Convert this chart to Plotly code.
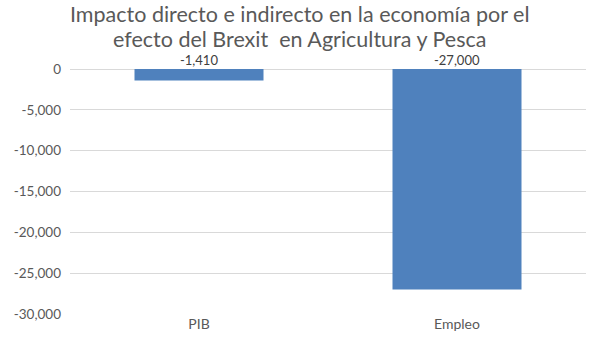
import plotly.graph_objects as go

categories = ["PIB", "Empleo"]
values = [-1410, -27000]
tick_values = [0, -5000, -10000, -15000, -20000, -25000, -30000]
tick_labels = [f"{v:,}" for v in tick_values]
title_lines = [
    "Impacto directo e indirecto en la economía por el",
    "efecto del Brexit  en Agricultura y Pesca",
]

FONT = "Lato, 'Open Sans', sans-serif"
PLOT_L, PLOT_R, PLOT_T, PLOT_B = 70, 586, 69, 314
W, H = 599, 352

fig = go.Figure()
fig.add_trace(go.Bar(
    x=categories, y=values,
    marker=dict(color="#4F81BD", line=dict(width=0)),
    width=0.5,
    hoverinfo="skip",
))

for c, v in zip(categories, values):
    fig.add_annotation(
        x=c, y=0, xref="x", yref="y",
        text=f"{v:,}", showarrow=False,
        yanchor="bottom", yshift=0, borderpad=0,
        font=dict(family=FONT, size=13, color="#404040"),
    )

# title as two paper annotations, centred on the full figure width
pw = PLOT_R - PLOT_L
ph = PLOT_B - PLOT_T
for line, ypx in zip(title_lines, [14, 39]):
    fig.add_annotation(
        x=(W / 2 - PLOT_L) / pw, y=1 + (PLOT_T - ypx) / ph,
        xref="paper", yref="paper",
        xanchor="center", yanchor="middle", borderpad=0,
        text=line, showarrow=False,
        font=dict(family=FONT, size=21.5, color="#595959"),
    )

fig.update_layout(
    width=W, height=H,
    margin=dict(l=PLOT_L, r=W - PLOT_R, t=PLOT_T, b=H - PLOT_B),
    paper_bgcolor="white", plot_bgcolor="white",
    showlegend=False,
    xaxis=dict(
        showgrid=False, showline=False, zeroline=False,
        ticks="", tickfont=dict(family=FONT, size=14, color="#595959"),
        range=[-0.5, 1.5],
    ),
    yaxis=dict(
        range=[-30000, 0],
        tickvals=tick_values, ticktext=tick_labels,
        showgrid=True, gridcolor="#D9D9D9", gridwidth=1,
        zeroline=True, zerolinecolor="#D9D9D9", zerolinewidth=1,
        showline=False, ticks="",
        tickfont=dict(family=FONT, size=13.5, color="#595959"),
        ticklabelstandoff=8,
    ),
)

fig.write_html("out.html")
